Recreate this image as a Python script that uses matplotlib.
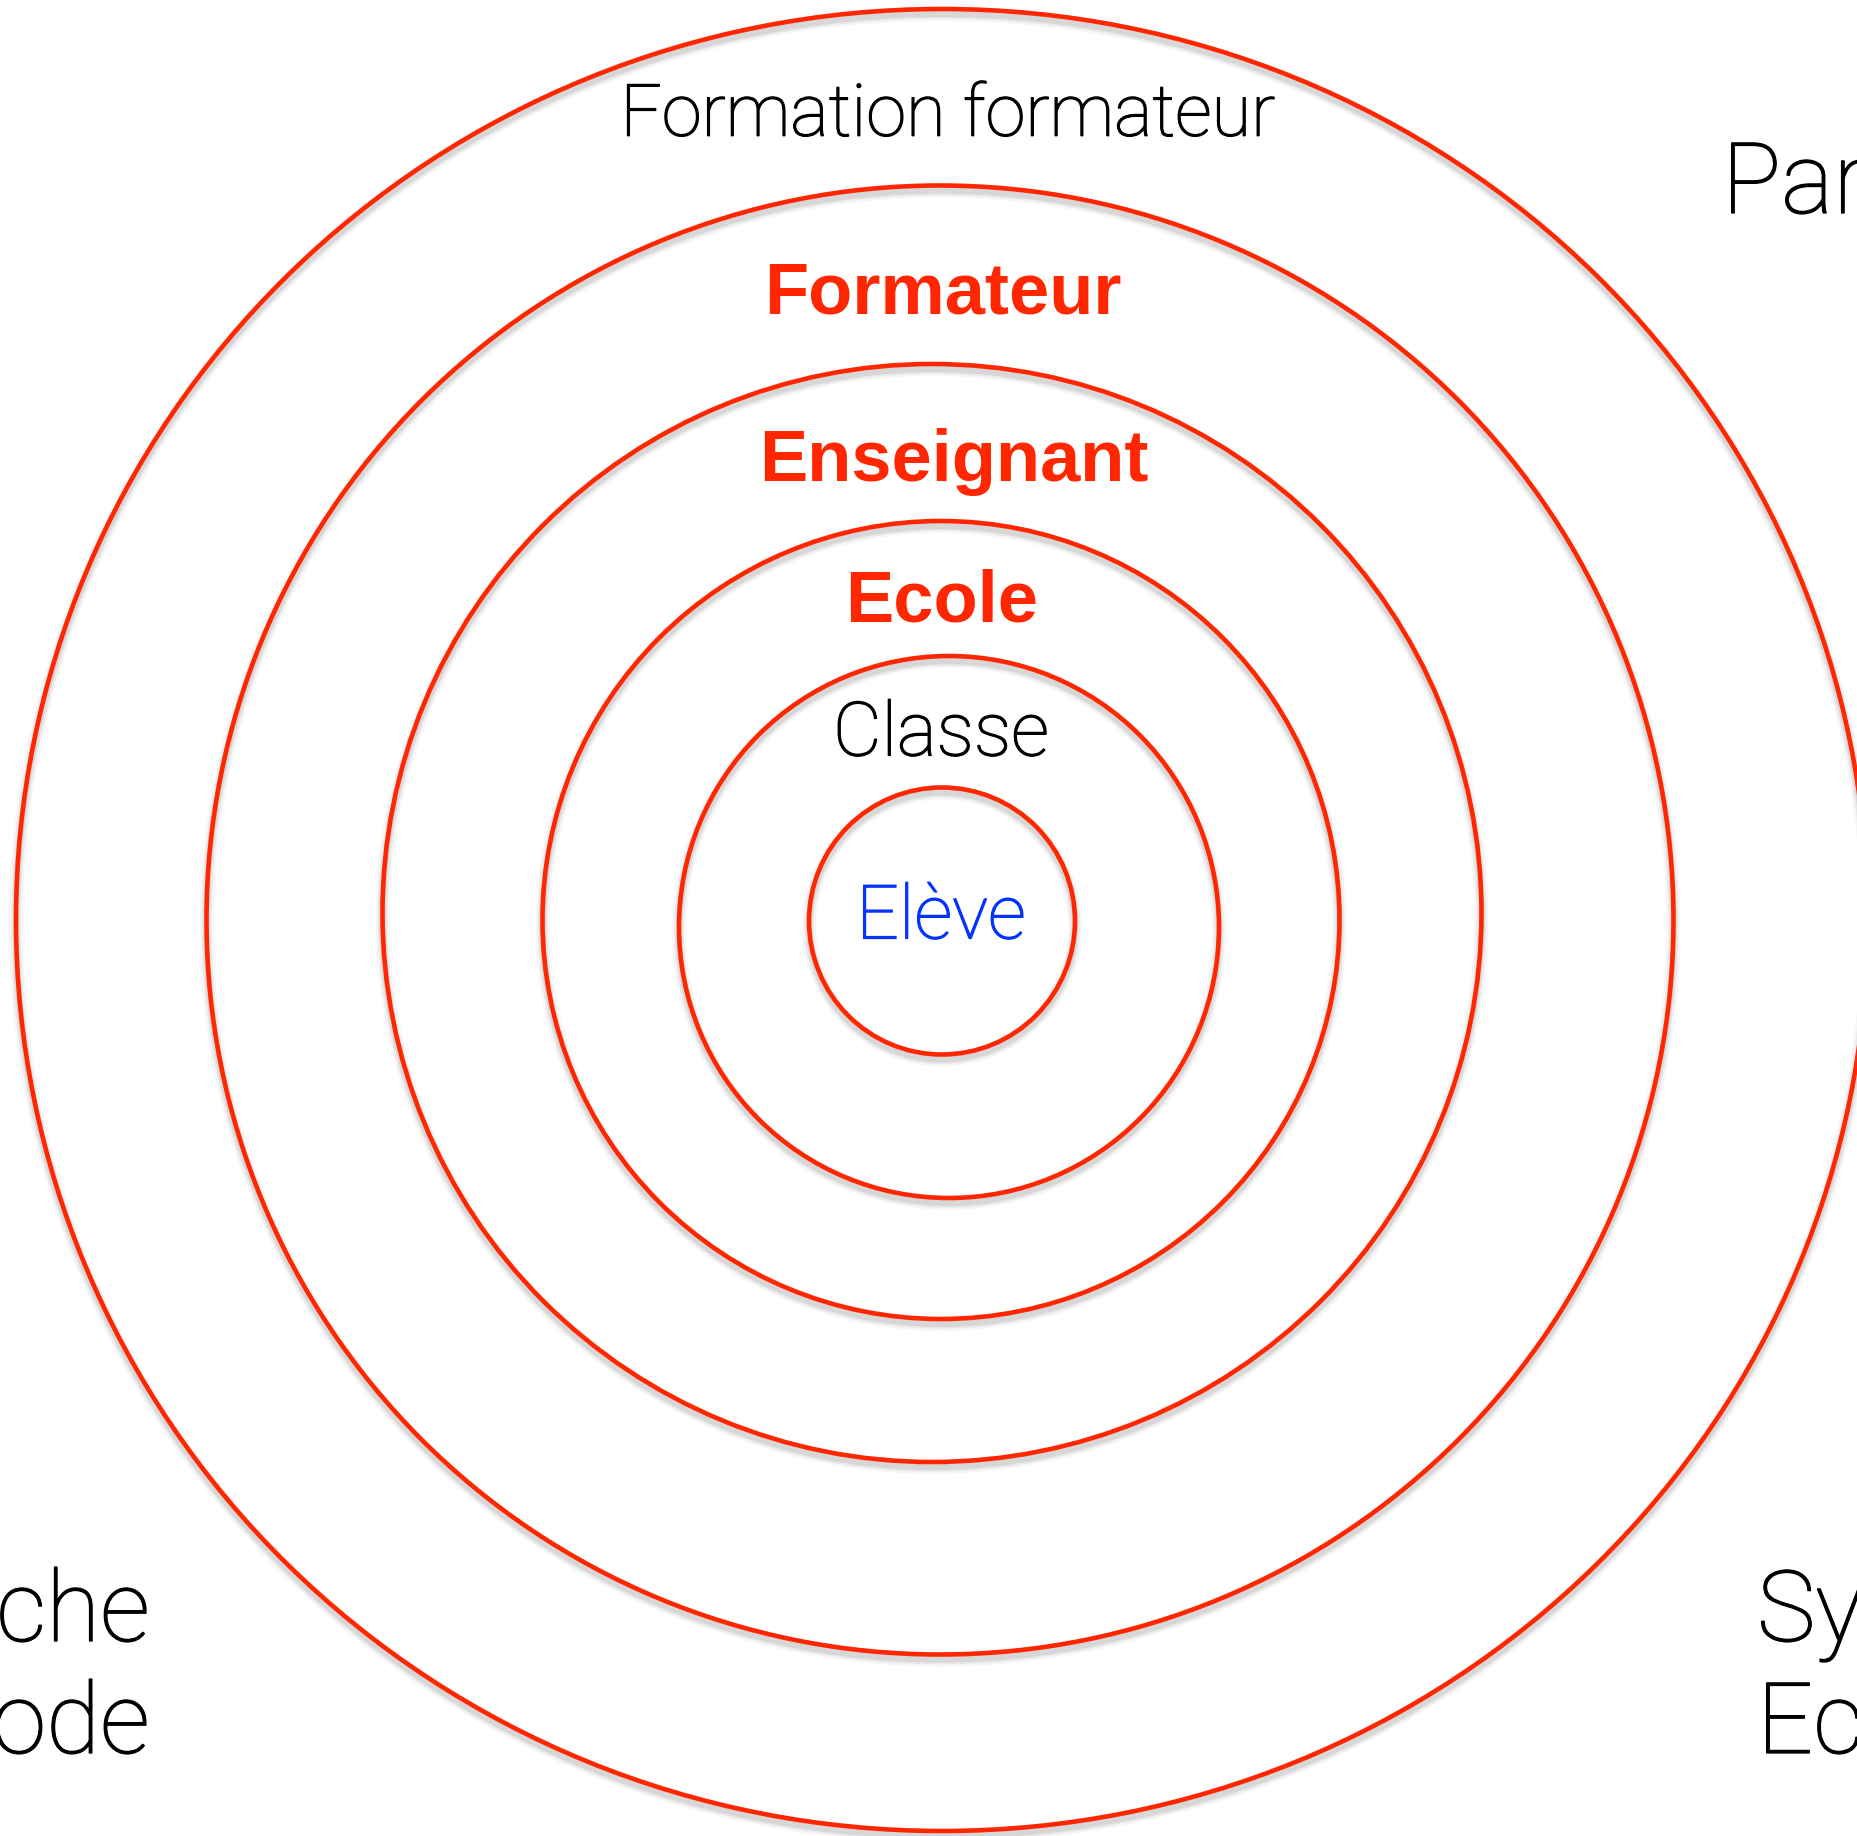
import matplotlib
matplotlib.use("Agg")
import matplotlib.pyplot as plt
import matplotlib.patheffects as pe
from matplotlib.patches import Ellipse

# rings, outer to inner (pixel units of the 1858x1836 canvas)
ring_cx = [942, 940, 932, 941, 949, 942]
ring_cy = [920, 920, 913, 920, 927, 921]
ring_w = [1852, 1467, 1099, 797, 540, 266]
ring_h = [1822, 1469, 1098, 798, 542, 267]

# labels written at the top of each ring
ring_labels = ["Formation formateur", "Formateur", "Enseignant", "Ecole", "Classe", "Elève"]
label_x = [948, 943, 954, 942, 941, 941]
label_y = [116, 295, 462, 603, 735, 918]
label_size = [52, 52, 52, 52, 54, 54]
label_color = ["black", "#FF2600", "#FF2600", "#FF2600", "black", "#0433FF"]
label_bold = [False, True, True, True, False, False]

# labels partly off the canvas, one entry per line
side_top_right = ["Parents"]
side_bottom_left = ["Recherche", "Méthode"]
side_bottom_right = ["Système", "Ecole"]

RED = "#FF2600"
W, H = 1858, 1836

fig = plt.figure(figsize=(W / 100, H / 100), dpi=100)
ax = fig.add_axes([0, 0, 1, 1])
ax.set_xlim(0, W)
ax.set_ylim(H, 0)
ax.axis("off")

for cx, cy, w, h in zip(ring_cx, ring_cy, ring_w, ring_h):
    # soft drop shadow under each ring
    for lw, a in [(10, 0.05), (7, 0.08), (4.5, 0.12)]:
        ax.add_patch(Ellipse((cx, cy + 5), w, h, fill=False, ec="0.35", lw=lw, alpha=a))
    ax.add_patch(Ellipse((cx, cy), w, h, fill=False, ec=RED, lw=3.3))

def light_text(x, y, s, size, color="black", **kw):
    t = ax.text(x, y, s, color=color, fontsize=size, fontweight="light",
                family="Roboto", **kw)
    # thicken the light strokes a little
    t.set_path_effects([pe.withStroke(linewidth=0.9, foreground=color)])
    return t

for txt, x, y, s, c, b in zip(ring_labels, label_x, label_y, label_size, label_color, label_bold):
    if b:
        ax.text(x, y, txt, color=c, fontsize=s, fontweight="bold",
                family="Liberation Sans", ha="center", va="center")
    else:
        light_text(x, y, txt, s, c, ha="center", va="center")

line_gap = 112
for i, line in enumerate(side_top_right):
    light_text(1722, 213 + i * line_gap, line, 71, ha="left", va="baseline")
for i, line in enumerate(side_bottom_left):
    light_text(150, 1641 + i * line_gap, line, 71, ha="right", va="baseline")
for i, line in enumerate(side_bottom_right):
    light_text(1757, 1641 + i * line_gap, line, 71, ha="left", va="baseline")

fig.savefig("out.png", dpi=100, facecolor="white")
